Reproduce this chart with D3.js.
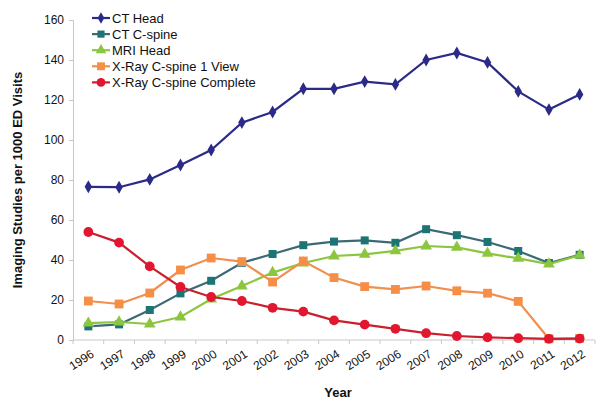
<!DOCTYPE html>
<html><head><meta charset="utf-8">
<script src="https://cdn.jsdelivr.net/npm/d3@7"></script>
<style>body{margin:0;background:#fff}svg{display:block;font-family:"Liberation Sans",Arial,sans-serif}</style>
</head><body><svg id="c" width="600" height="402"></svg>
<script>
const years = ["1996","1997","1998","1999","2000","2001","2002","2003","2004","2005","2006","2007","2008","2009","2010","2011","2012"];
const ctHead = [76.6,76.4,80.3,87.5,95,108.7,114,125.6,125.6,129.2,127.8,140,143.5,138.8,124.3,115.2,122.8];
const ctCspine = [6.8,7.8,15,23.3,29.6,38.6,43,47.4,49.2,49.8,48.6,55.4,52.4,49,44.5,38.5,42.6];
const mriHead = [8.4,9,8,11.5,20.5,27,33.7,38.5,42,42.8,44.6,47,46.3,43.3,40.8,38,42.4];
const xray1 = [19.5,18,23.5,35,41,39.2,29,39.5,31.2,26.7,25.3,27,24.6,23.4,19.3,0.6,0.8];
const xrayComplete = [54,48.7,36.8,26.5,21.5,19.5,16.1,14.2,9.8,7.7,5.6,3.4,2,1.3,0.9,0.6,0.7];
const yTicks = [0,20,40,60,80,100,120,140,160];
const seriesNames = ["CT Head","CT C-spine","MRI Head","X-Ray C-spine 1 View","X-Ray C-spine Complete"];
const seriesColors = ["#2b2a88","#1c7475","#8cc63f","#f68e46","#e2162e"];
const lineColors = ["#2b2a88","#3c6a73","#8cc63f","#ef8f50","#c9202f"];
const seriesShapes = ["diamond","square","triangle","square","circle"];
const seriesSizes = [48,64,60,78,75];
const seriesData = [ctHead, ctCspine, mriHead, xray1, xrayComplete];

const svg = d3.select("#c");
const x = d3.scaleBand().domain(years).range([73,595]);
const y = d3.scaleLinear().domain([0,160]).range([340,20]);
const axisCol = "#c8c8c8";

// y axis
const ya = svg.append("g").attr("transform","translate(73,0)")
  .call(d3.axisLeft(y).tickValues(yTicks).tickSize(4).tickPadding(5));
ya.select(".domain").attr("stroke",axisCol);
ya.selectAll(".tick line").attr("stroke",axisCol);
ya.selectAll("text").attr("font-size",12).attr("fill","#111");

// x axis
const xa = svg.append("g").attr("transform","translate(0,340)");
xa.append("line").attr("x1",73).attr("x2",595).attr("stroke",axisCol);
const bounds = years.map(d=>x(d)).concat([x(years[years.length-1])+x.bandwidth()]);
xa.selectAll(".tk").data(bounds).join("line").attr("x1",d=>d).attr("x2",d=>d).attr("y1",0).attr("y2",4).attr("stroke",axisCol);
xa.selectAll(".lbl").data(years).join("text")
  .attr("transform",d=>`translate(${x(d)+x.bandwidth()/2+2},${9}) rotate(-33)`)
  .attr("text-anchor","end").attr("dy","0.7em").attr("font-size",12).attr("fill","#111").text(d=>d);

// titles
svg.append("text").attr("transform","translate(22,180) rotate(-90)").attr("text-anchor","middle")
  .attr("font-weight","bold").attr("font-size",13).attr("fill","#111").text("Imaging Studies per 1000 ED Visits");
svg.append("text").attr("x",338).attr("y",397).attr("font-weight","bold").attr("font-size",13).attr("fill","#111").attr("text-anchor","middle").text("Year");

const symType = {diamond:d3.symbolDiamond, square:d3.symbolSquare, triangle:d3.symbolTriangle, circle:d3.symbolCircle};
const line = d3.line().x((d,i)=>x(years[i])+x.bandwidth()/2).y(d=>y(d));

seriesData.forEach((data,k)=>{
  const g = svg.append("g");
  g.append("path").datum(data).attr("d",line).attr("fill","none").attr("stroke",lineColors[k]).attr("stroke-width",2.2);
  g.selectAll("path.m").data(data).join("path").attr("class","m")
    .attr("transform",(d,i)=>`translate(${x(years[i])+x.bandwidth()/2},${y(d)})`)
    .attr("d",d3.symbol().type(symType[seriesShapes[k]]).size(seriesSizes[k]))
    .attr("fill",seriesColors[k]);
});

// legend
const lg = svg.append("g");
seriesNames.forEach((n,k)=>{
  const yy = 18 + k*16.1;
  lg.append("line").attr("x1",92).attr("x2",110).attr("y1",yy).attr("y2",yy).attr("stroke",lineColors[k]).attr("stroke-width",2.2);
  lg.append("path").attr("transform",`translate(101,${yy})`).attr("d",d3.symbol().type(symType[seriesShapes[k]]).size(seriesSizes[k]*0.8)).attr("fill",seriesColors[k]);
  lg.append("text").attr("x",112).attr("y",yy).attr("dy","0.36em").attr("font-size",13).attr("fill","#111").text(n);
});
</script></body></html>
